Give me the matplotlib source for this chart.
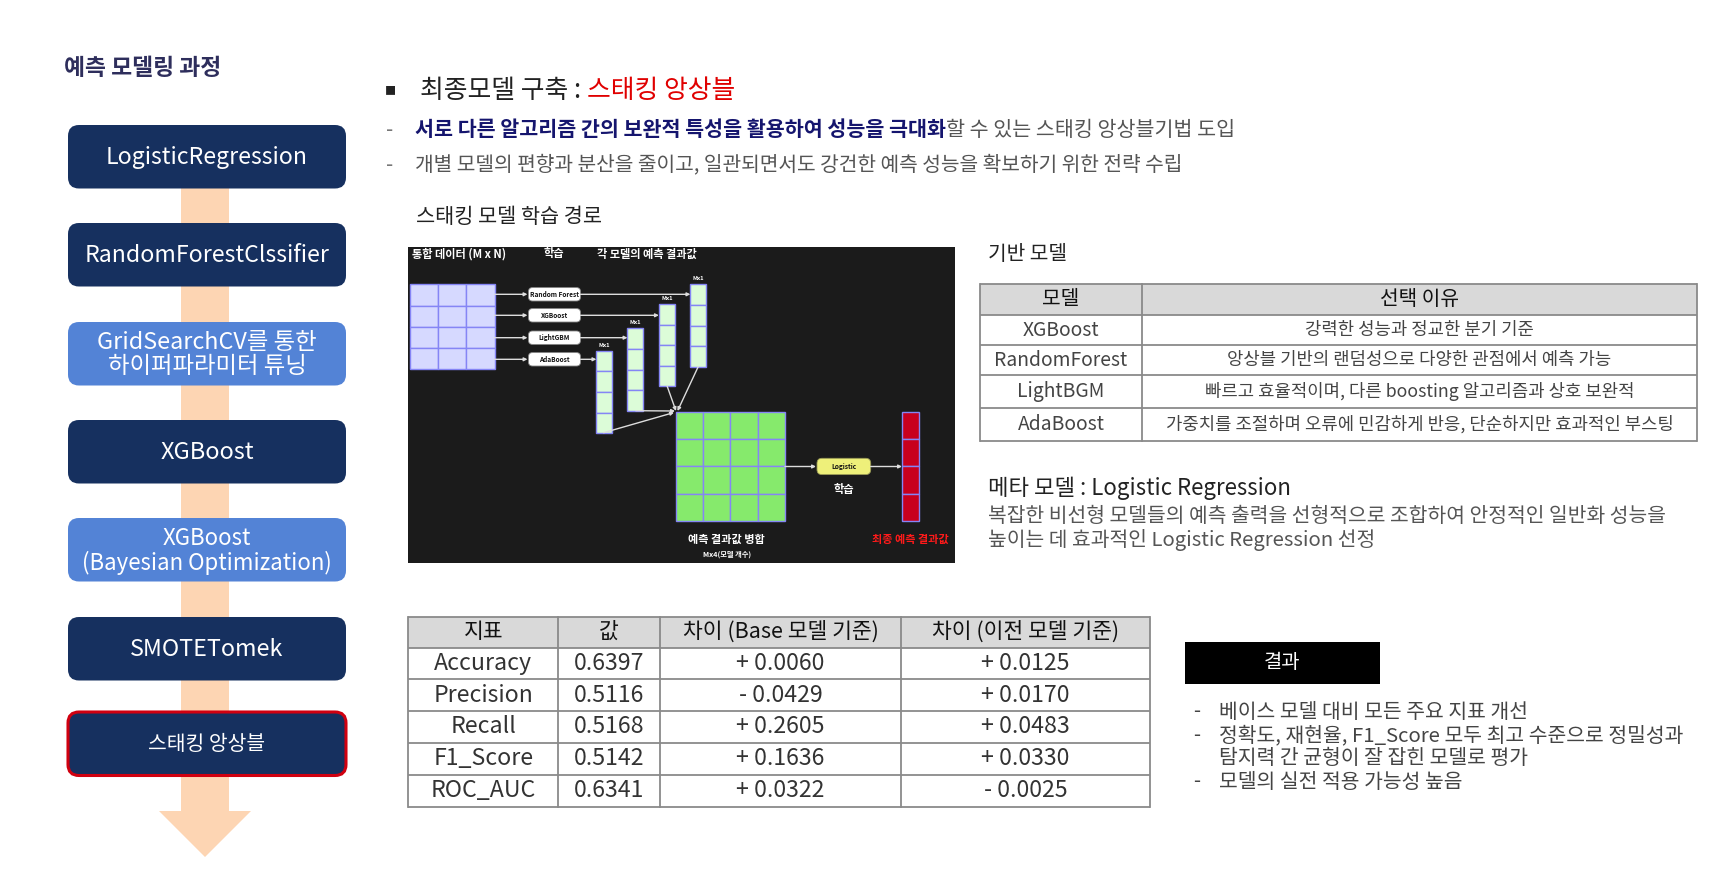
import matplotlib
matplotlib.use("Agg")
import matplotlib.pyplot as plt
from matplotlib.patches import FancyBboxPatch, Rectangle, Polygon

plt.rcParams['font.family'] = ['Noto Sans CJK KR', 'DejaVu Sans']

# ---------------- data ----------------
panel_title = "예측 모델링 과정"
steps = ["LogisticRegression", "RandomForestClssifier", "GridSearchCV를 통한\n하이퍼파라미터 튜닝",
         "XGBoost", "XGBoost\n(Bayesian Optimization)", "SMOTETomek", "스태킹 앙상블"]
tuned_steps = [2, 4]

headline_black = "최종모델 구축 : "
headline_red = "스태킹 앙상블"
point1_blue = "서로 다른 알고리즘 간의 보완적 특성을 활용하여 성능을 극대화"
point1_gray = "할 수 있는 스태킹 앙상블기법 도입"
point2 = "개별 모델의 편향과 분산을 줄이고, 일관되면서도 강건한 예측 성능을 확보하기 위한 전략 수립"
diagram_title = "스태킹 모델 학습 경로"

base_title = "기반 모델"
base_header = ["모델", "선택 이유"]
base_models = ["XGBoost", "RandomForest", "LightBGM", "AdaBoost"]
base_reasons = ["강력한 성능과 정교한 분기 기준",
                "앙상블 기반의 랜덤성으로 다양한 관점에서 예측 가능",
                "빠르고 효율적이며, 다른 boosting 알고리즘과 상호 보완적",
                "가중치를 조절하며 오류에 민감하게 반응, 단순하지만 효과적인 부스팅"]
meta_title = "메타 모델 : Logistic Regression"
meta_desc = ["복잡한 비선형 모델들의 예측 출력을 선형적으로 조합하여 안정적인 일반화 성능을",
             "높이는 데 효과적인 Logistic Regression 선정"]

metric_header = ["지표", "값", "차이 (Base 모델 기준)", "차이 (이전 모델 기준)"]
metrics = ["Accuracy", "Precision", "Recall", "F1_Score", "ROC_AUC"]
metric_values = ["0.6397", "0.5116", "0.5168", "0.5142", "0.6341"]
diff_base = ["+ 0.0060", "- 0.0429", "+ 0.2605", "+ 0.1636", "+ 0.0322"]
diff_prev = ["+ 0.0125", "+ 0.0170", "+ 0.0483", "+ 0.0330", "- 0.0025"]

result_title = "결과"
result_lines = ["베이스 모델 대비 모든 주요 지표 개선",
                "정확도, 재현율, F1_Score 모두 최고 수준으로 정밀성과",
                "탐지력 간 균형이 잘 잡힌 모델로 평가",
                "모델의 실전 적용 가능성 높음"]
result_dash = [True, True, False, True]

diagram_models = ["Random Forest", "XGBoost", "LightGBM", "AdaBoost"]
diagram_labels = ["통합 데이터 (M x N)", "학습", "각 모델의 예측 결과값"]

# ---------------- figure ----------------
W, H = 1731, 883
fig = plt.figure(figsize=(W / 100, H / 100), dpi=100)
ax = fig.add_axes([0, 0, 1, 1])
ax.set_xlim(0, W)
ax.set_ylim(H, 0)
ax.axis('off')
R = fig.canvas.get_renderer()

def adv(s, size=10, weight='normal'):
    t = ax.text(0, 0, s + '.', fontsize=size, fontweight=weight)
    t2 = ax.text(0, 0, '.', fontsize=size, fontweight=weight)
    w = t.get_window_extent(R).width - t2.get_window_extent(R).width
    t.remove(); t2.remove()
    return w

def fit(s, target, weight='normal'):
    return 10.0 * target / adv(s, 10, weight)

def fit_parts(parts, target):
    total = sum(adv(s, 10, wt) for s, c, wt in parts)
    return 10.0 * target / total

def rich(x, y, parts, size):
    for s, color, weight in parts:
        ax.text(x, y, s, fontsize=size, color=color, fontweight=weight, ha='left', va='center')
        x += adv(s, size, weight)

LW = 'light'

# ---------------- left panel ----------------
NAVY = '#16305f'
LIGHT = '#5383d6'
PEACH = '#fdd5b3'
ax.text(64, 68.5, panel_title, fontsize=fit(panel_title, 157, 'bold'), fontweight='bold',
        color='#2e2e5c', ha='left', va='center')

ax.add_patch(Rectangle((181, 150), 48, 661, facecolor=PEACH, edgecolor='none', zorder=1))
ax.add_patch(Polygon([(159, 811), (251, 811), (205, 857)], closed=True, facecolor=PEACH,
                     edgecolor='none', zorder=1))
step_text_w = [202, 244, 219, 94, 250, 153, 117]
box_tops = [125, 223, 322, 420, 518, 617, 712]
box_x, box_w, box_h = 68, 278, 63.5
for i, s in enumerate(steps):
    y0 = box_tops[i]
    fc = LIGHT if i in tuned_steps else NAVY
    last = i == len(steps) - 1
    ax.add_patch(FancyBboxPatch((box_x, y0), box_w, box_h,
                                boxstyle="round,pad=0,rounding_size=11",
                                facecolor=fc, edgecolor='#d00010' if last else 'none',
                                linewidth=2.2 if last else 0, zorder=2))
    widest = max(s.split('\n'), key=lambda q: adv(q, 10, LW))
    fs = fit(widest, step_text_w[i], LW)
    ax.text(box_x + box_w / 2, y0 + box_h / 2 + 1, s, fontsize=fs, color='white', fontweight=LW,
            ha='center', va='center', linespacing=1.05, zorder=3)

# ---------------- headline ----------------
ax.text(390, 91, "■", fontsize=8, color='#222222', ha='center', va='center')
hl = [(headline_black, '#222222', 'normal'), (headline_red, '#e00000', 'normal')]
rich(420.5, 91, hl, fit_parts(hl, 315))
p1 = [(point1_blue, '#15156e', 'bold'), (point1_gray, '#555555', LW)]
fs_p = fit_parts(p1, 819)
ax.text(390, 130, "-", fontsize=fs_p, color='#777777', ha='center', va='center')
rich(415, 130, p1, fs_p)
ax.text(390, 165, "-", fontsize=fs_p, color='#777777', ha='center', va='center')
ax.text(415, 165, point2, fontsize=fit(point2, 769, LW), color='#555555', fontweight=LW,
        ha='left', va='center')
ax.text(416, 217, diagram_title, fontsize=fit(diagram_title, 186), color='#222222',
        ha='left', va='center')

# ---------------- diagram ----------------
ax.add_patch(Rectangle((408, 247), 547, 316, facecolor='#1b1b1b', edgecolor='none', zorder=1))
LAV = '#8585f5'

def grid(x0, y0, w, h, nr, nc, fc, ec=LAV, lw=1.0):
    cw, ch = w / nc, h / nr
    for r in range(nr):
        for c in range(nc):
            ax.add_patch(Rectangle((x0 + c * cw, y0 + r * ch), cw, ch, facecolor=fc,
                                   edgecolor=ec, linewidth=lw, zorder=3))

def arrow(x0, y0, x1, y1):
    ax.annotate('', xy=(x1, y1), xytext=(x0, y0),
                arrowprops=dict(arrowstyle='-|>', color='#dddddd', lw=1.0,
                                mutation_scale=5, shrinkA=0, shrinkB=0), zorder=4)

fs_lab = fit(diagram_labels[2], 100, 'bold')
ax.text(412.5, 254, diagram_labels[0], fontsize=fs_lab, fontweight='bold', color='white', ha='left', va='center', zorder=5)
ax.text(553.6, 254, diagram_labels[1], fontsize=fs_lab, fontweight='bold', color='white', ha='center', va='center', zorder=5)
ax.text(597.5, 254, diagram_labels[2], fontsize=fs_lab, fontweight='bold', color='white', ha='left', va='center', zorder=5)

grid(409.6, 284.3, 85, 85, 4, 3, '#d6d9ff')
row_y = [294.3, 315.3, 337.7, 359.3]
vec_x = [690.4, 658.9, 627.5, 596.4]
vec_top = [284.3, 304.0, 328.3, 350.7]
fs_mod = fit(diagram_models[0], 49, 'bold')
for k, name in enumerate(diagram_models):
    y = row_y[k]
    arrow(494.6, y, 527.5, y)
    ax.add_patch(FancyBboxPatch((528.5, y - 6.7), 52, 13.4, boxstyle="round,pad=0,rounding_size=4",
                                facecolor='white', edgecolor='#888888', linewidth=0.6, zorder=3))
    ax.text(554.5, y, name, fontsize=fs_mod, fontweight='bold', color='#111111', ha='center', va='center', zorder=5)
    arrow(580.5, y, vec_x[k], y)
    grid(vec_x[k], vec_top[k], 16, 82.4, 4, 1, '#dcfcd8')
    ax.text(vec_x[k] + 8, vec_top[k] - 5.5, "Mx1", fontsize=fs_mod * 0.9, fontweight='bold', color='white',
            ha='center', va='center', zorder=5)

# converging lines into merged matrix
arrow(698.2, 366.7, 677.5, 411)
arrow(667.1, 386.0, 676.0, 411)
arrow(635.7, 410.7, 675.0, 411)
arrow(603.6, 432.7, 674.0, 412.5)

grid(675.7, 411.7, 109.3, 109.3, 4, 4, '#86ea6c')
arrow(785, 466.5, 816, 466.5)
ax.add_patch(FancyBboxPatch((817, 458.3), 53.7, 16.3, boxstyle="round,pad=0,rounding_size=5",
                            facecolor='#eef07a', edgecolor='#999955', linewidth=0.6, zorder=3))
ax.text(844, 466.5, "Logistic", fontsize=fit("Logistic", 25.4, 'bold'), fontweight='bold',
        color='#111111', ha='center', va='center', zorder=5)
ax.text(844, 490, "학습", fontsize=fs_lab, fontweight='bold', color='white', ha='center', va='center', zorder=5)
arrow(870.7, 466.5, 902, 466.5)
grid(902.5, 411.7, 16.1, 109.3, 4, 1, '#c8001e')
fs_big = fit("예측 결과값 병합", 76.4, 'bold')
ax.text(726.8, 539, "예측 결과값 병합", fontsize=fs_big, fontweight='bold', color='white', ha='center', va='center', zorder=5)
ax.text(726.8, 554, "Mx4(모델 개수)", fontsize=fit("Mx4(모델 개수)", 48, 'bold'), fontweight='bold',
        color='white', ha='center', va='center', zorder=5)
ax.text(910.7, 539, "최종 예측 결과값", fontsize=fs_big, fontweight='bold', color='#ff1a1a', ha='center', va='center', zorder=5)

# ---------------- base model table ----------------
ax.text(988, 255, base_title, fontsize=fit(base_title, 79), color='#222222', ha='left', va='center')
bx = [980, 1142, 1697]
by = [283.5, 315, 345, 375, 407.5, 441]
ax.add_patch(Rectangle((bx[0], by[0]), bx[2] - bx[0], by[1] - by[0], facecolor='#d9d9d9', edgecolor='none'))
for yy in by:
    ax.plot([bx[0], bx[2]], [yy, yy], color='#8a8a8a', lw=1.3, solid_capstyle='butt')
for xx in bx:
    ax.plot([xx, xx], [by[0], by[-1]], color='#8a8a8a', lw=1.3)
fs_bh = fit(base_header[1], 79)
for j, h in enumerate(base_header):
    ax.text((bx[j] + bx[j + 1]) / 2, (by[0] + by[1]) / 2, h, fontsize=fs_bh, color='#111111', ha='center', va='center')
fs_c1 = fit(base_models[1], 133.5, LW)
fs_c2 = fit(base_reasons[3], 506, LW)
for i in range(len(base_models)):
    yc = (by[i + 1] + by[i + 2]) / 2
    ax.text((bx[0] + bx[1]) / 2, yc, base_models[i], fontsize=fs_c1, color='#444444', fontweight=LW,
            ha='center', va='center')
    ax.text((bx[1] + bx[2]) / 2, yc, base_reasons[i], fontsize=fs_c2, color='#444444', fontweight=LW,
            ha='center', va='center')

ax.text(988, 488, meta_title, fontsize=fit(meta_title, 303), color='#222222', ha='left', va='center')
fs_md = fit(meta_desc[0], 676, LW)
for k, line in enumerate(meta_desc):
    ax.text(988, 516 + k * 24, line, fontsize=fs_md, color='#555555', fontweight=LW, ha='left', va='center')

# ---------------- metrics table ----------------
mx = [408.5, 558, 660, 901, 1150]
my = [616.5, 647.5, 679, 711, 742.5, 774.5, 807]
ax.add_patch(Rectangle((mx[0], my[0]), mx[-1] - mx[0], my[1] - my[0], facecolor='#d9d9d9', edgecolor='none'))
for yy in my:
    ax.plot([mx[0], mx[-1]], [yy, yy], color='#8a8a8a', lw=1.3, solid_capstyle='butt')
for xx in mx:
    ax.plot([xx, xx], [my[0], my[-1]], color='#8a8a8a', lw=1.3)
fs_mh = fit(metric_header[2], 196)
for j, h in enumerate(metric_header):
    ax.text((mx[j] + mx[j + 1]) / 2, (my[0] + my[1]) / 2, h, fontsize=fs_mh, color='#111111', ha='center', va='center')
fs_mb = fit(metrics[0], 98, LW)
cols = [metrics, metric_values, diff_base, diff_prev]
for i in range(len(metrics)):
    yc = (my[i + 1] + my[i + 2]) / 2
    for j, col in enumerate(cols):
        ax.text((mx[j] + mx[j + 1]) / 2, yc, col[i], fontsize=fs_mb, color='#333333', fontweight=LW,
                ha='center', va='center')

# ---------------- result ----------------
ax.add_patch(Rectangle((1185, 642), 195, 42, facecolor='black', edgecolor='none'))
ax.text(1282, 663, result_title, fontsize=fit(result_title, 36.5), color='white', ha='center', va='center')
fs_r = fit(result_lines[1], 464, LW)
for k, line in enumerate(result_lines):
    y = [712, 735.5, 758.5, 782][k]
    if result_dash[k]:
        ax.text(1197, y, "-", fontsize=fs_r, color='#444444', ha='center', va='center')
    ax.text(1219.5, y, line, fontsize=fs_r, color='#444444', fontweight=LW, ha='left', va='center')

fig.savefig("out.png", dpi=100)
